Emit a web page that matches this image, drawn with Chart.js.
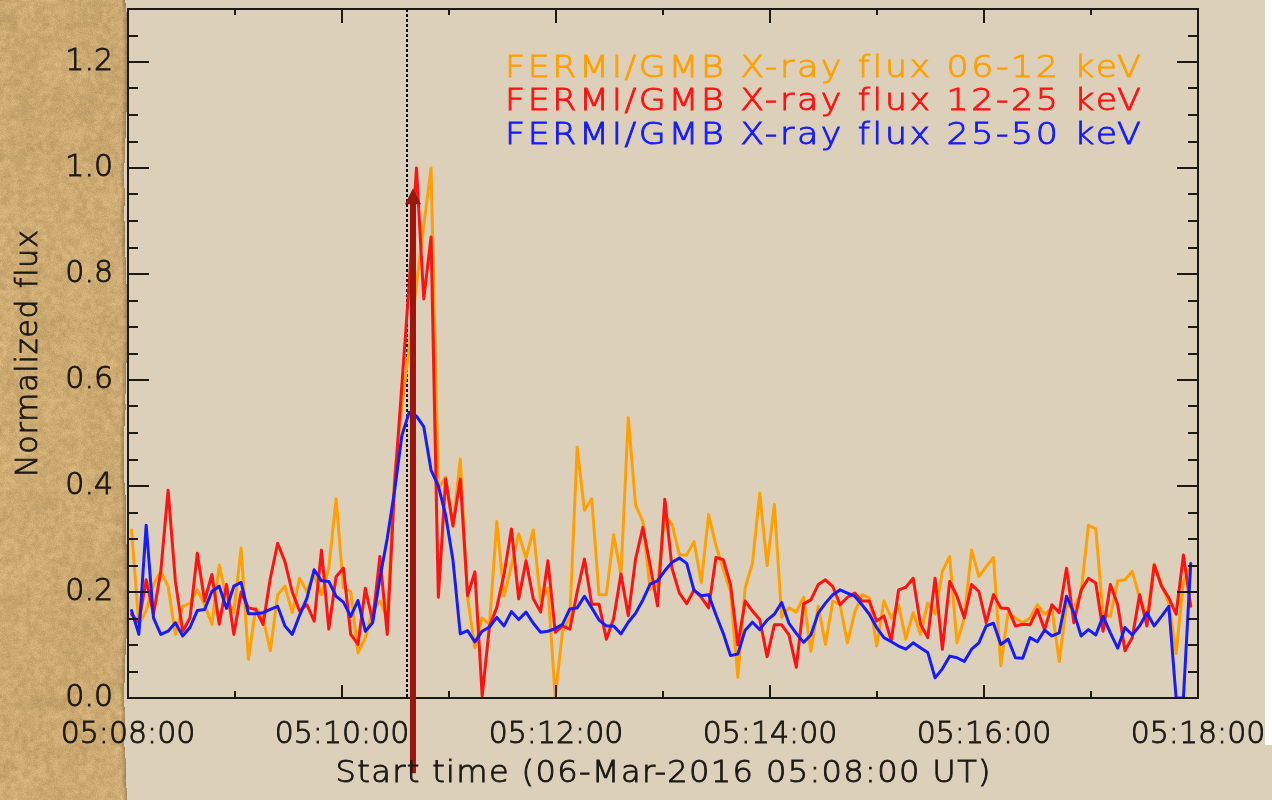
<!DOCTYPE html>
<html>
<head>
<meta charset="utf-8">
<title>FERMI/GBM normalized X-ray flux</title>
<script src="https://cdn.jsdelivr.net/npm/chart.js@4.4.1/dist/chart.umd.min.js"></script>
<style>
  html, body { margin: 0; padding: 0; background: #dcd0bb; }
  #c { display: block; }
</style>
</head>
<body>
<canvas id="c" width="1272" height="800"></canvas>
<script>
// ---- data -----------------------------------------------------------------
// Sample grid: seconds after 05:08:00 UT, 4.096 s accumulation bins
const START_OFFSET_S = 2.0;
const BIN_S = 4.096;

// Normalized count rate, 06-12 keV
const flux06to12 = [
  0.317, 0.139, 0.164, 0.214, 0.239, 0.211, 0.120, 0.173, 0.179, 0.204,
  0.176, 0.139, 0.251, 0.189, 0.161, 0.283, 0.073, 0.170, 0.151, 0.089,
  0.195, 0.211, 0.161, 0.226, 0.201, 0.232, 0.195, 0.245, 0.376, 0.208,
  0.201, 0.085, 0.114, 0.164, 0.183, 0.151, 0.420, 0.550, 0.660, 0.780,
  0.890, 1.000, 0.395, 0.417, 0.323, 0.451, 0.189, 0.095, 0.151, 0.139,
  0.333, 0.192, 0.250, 0.310, 0.264, 0.317, 0.183, 0.208, 0.002, 0.126,
  0.151, 0.473, 0.354, 0.376, 0.195, 0.195, 0.308, 0.233, 0.529, 0.364,
  0.333, 0.204, 0.214, 0.344, 0.328, 0.270, 0.270, 0.295, 0.218, 0.346,
  0.288, 0.244, 0.200, 0.039, 0.208, 0.254, 0.387, 0.250, 0.365, 0.152,
  0.170, 0.162, 0.190, 0.088, 0.173, 0.101, 0.183, 0.176, 0.104, 0.161,
  0.195, 0.189, 0.098, 0.183, 0.151, 0.176, 0.111, 0.161, 0.120, 0.179,
  0.158, 0.239, 0.267, 0.104, 0.151, 0.279, 0.229, 0.248, 0.265, 0.061,
  0.161, 0.151, 0.142, 0.151, 0.176, 0.158, 0.169, 0.069, 0.176, 0.169,
  0.200, 0.326, 0.319, 0.158, 0.154, 0.221, 0.223, 0.239, 0.189, 0.154,
  0.253, 0.214, 0.179, 0.084, 0.220, 0.248
];

// Normalized count rate, 12-25 keV
const flux12to25 = [
  0.158, 0.142, 0.223, 0.158, 0.239, 0.392, 0.220, 0.126, 0.151, 0.273,
  0.183, 0.233, 0.139, 0.214, 0.120, 0.200, 0.170, 0.167, 0.139, 0.226,
  0.292, 0.257, 0.200, 0.164, 0.176, 0.145, 0.279, 0.130, 0.229, 0.245,
  0.120, 0.101, 0.207, 0.145, 0.267, 0.120, 0.400, 0.590, 0.780, 1.000,
  0.753, 0.870, 0.190, 0.413, 0.325, 0.413, 0.193, 0.238, 0.004, 0.136,
  0.171, 0.234, 0.319, 0.187, 0.259, 0.187, 0.162, 0.259, 0.124, 0.136,
  0.130, 0.200, 0.262, 0.177, 0.177, 0.111, 0.150, 0.234, 0.155, 0.262,
  0.322, 0.250, 0.174, 0.375, 0.244, 0.198, 0.178, 0.204, 0.190, 0.170,
  0.265, 0.261, 0.214, 0.100, 0.183, 0.164, 0.148, 0.078, 0.138, 0.138,
  0.119, 0.058, 0.178, 0.185, 0.214, 0.223, 0.210, 0.176, 0.190, 0.198,
  0.183, 0.183, 0.145, 0.155, 0.108, 0.204, 0.209, 0.226, 0.139, 0.114,
  0.226, 0.092, 0.220, 0.192, 0.151, 0.214, 0.201, 0.142, 0.195, 0.170,
  0.169, 0.136, 0.139, 0.138, 0.167, 0.129, 0.176, 0.161, 0.245, 0.142,
  0.204, 0.226, 0.217, 0.126, 0.214, 0.176, 0.089, 0.114, 0.195, 0.136,
  0.251, 0.211, 0.189, 0.158, 0.270, 0.173
];

// Normalized count rate, 25-50 keV
const flux25to50 = [
  0.165, 0.120, 0.326, 0.151, 0.120, 0.126, 0.142, 0.117, 0.133, 0.165,
  0.167, 0.201, 0.211, 0.169, 0.211, 0.218, 0.159, 0.159, 0.161, 0.167,
  0.173, 0.136, 0.120, 0.156, 0.188, 0.242, 0.221, 0.220, 0.192, 0.181,
  0.154, 0.184, 0.126, 0.142, 0.226, 0.301, 0.390, 0.495, 0.539, 0.532,
  0.512, 0.430, 0.400, 0.345, 0.260, 0.121, 0.127, 0.106, 0.126, 0.134,
  0.152, 0.136, 0.163, 0.148, 0.162, 0.141, 0.124, 0.126, 0.131, 0.139,
  0.168, 0.170, 0.192, 0.170, 0.147, 0.136, 0.136, 0.121, 0.143, 0.160,
  0.185, 0.215, 0.221, 0.240, 0.256, 0.264, 0.254, 0.203, 0.193, 0.195,
  0.157, 0.122, 0.080, 0.083, 0.128, 0.143, 0.129, 0.147, 0.158, 0.180,
  0.141, 0.122, 0.105, 0.119, 0.160, 0.179, 0.195, 0.204, 0.198, 0.192,
  0.176, 0.158, 0.133, 0.114, 0.106, 0.098, 0.092, 0.104, 0.095, 0.086,
  0.038, 0.055, 0.079, 0.076, 0.069, 0.092, 0.104, 0.136, 0.141, 0.101,
  0.111, 0.076, 0.075, 0.114, 0.106, 0.128, 0.117, 0.123, 0.192, 0.161,
  0.117, 0.129, 0.119, 0.154, 0.123, 0.094, 0.133, 0.119, 0.136, 0.161,
  0.136, 0.154, 0.173, 0.000, 0.000, 0.254
];

const seriesLabels = [
  'FERMI/GMB X-ray flux 06-12 keV',
  'FERMI/GMB X-ray flux 12-25 keV',
  'FERMI/GMB X-ray flux 25-50 keV'
];

// Time-axis labels, one every 120 s from 05:08:00
const timeTickLabels = ['05:08:00', '05:10:00', '05:12:00', '05:14:00', '05:16:00', '05:18:00'];

const xTitle = 'Start time (06-Mar-2016 05:08:00 UT)';
const yTitle = 'Normalized flux';

// Markers: dotted onset line and the upward arrow (seconds after start / flux)
const onsetTimeS = 156.5;
const arrowTimeS = 159.8;
const arrowFromFlux = -0.142;
const arrowToFlux = 0.962;

// ---- styling --------------------------------------------------------------
const INK = '#1d1a16';
const FONT = '"DejaVu Sans", "Liberation Sans", sans-serif';
const COLORS = ['rgb(255,160,0)', 'rgb(255,18,18)', 'rgb(22,28,250)'];

const toPoints = arr => arr.map((v, i) => ({ x: START_OFFSET_S + i * BIN_S, y: v }));

// deterministic hash for the paper grain
function grain(x, y) {
  let n = Math.imul(x, 374761393) + Math.imul(y, 668265263);
  n = Math.imul(n ^ (n >>> 13), 1274126177);
  return ((n ^ (n >>> 16)) >>> 0) / 4294967295;
}
function smoothGrain(x, y, cell) {
  const gx = x / cell, gy = y / cell;
  const x0 = Math.floor(gx), y0 = Math.floor(gy);
  const fx = gx - x0, fy = gy - y0;
  const a = grain(x0, y0), b = grain(x0 + 1, y0), c = grain(x0, y0 + 1), d = grain(x0 + 1, y0 + 1);
  return (a * (1 - fx) + b * fx) * (1 - fy) + (c * (1 - fx) + d * fx) * fy;
}

// text helper: horizontally widened glyphs with extra tracking to a target width
function drawWideText(ctx, text, x, y, targetW, stretch, align) {
  ctx.save();
  ctx.letterSpacing = '0px';
  const w0 = ctx.measureText(text).width;
  const ls = (targetW / stretch - w0) / Math.max(1, text.length - 1);
  ctx.letterSpacing = ls.toFixed(2) + 'px';
  let x0 = x;
  if (align === 'center') x0 = x - targetW / 2;
  ctx.translate(x0, y);
  ctx.scale(stretch, 1);
  ctx.textAlign = 'left';
  ctx.fillText(text, 0, 0);
  ctx.strokeStyle = ctx.fillStyle;
  ctx.lineWidth = 0.9;
  ctx.strokeText(text, 0, 0);
  ctx.restore();
}

const paperBackground = {
  id: 'paperBackground',
  beforeDraw(chart) {
    const { ctx, width, height } = chart;
    ctx.save();
    ctx.fillStyle = '#dcd0bb';
    ctx.fillRect(0, 0, width, height);
    // torn parchment strip on the left edge
    const stripW = 128;
    const img = ctx.createImageData(stripW, height);
    for (let y = 0; y < height; y++) {
      const edge = 124 + Math.round(1.5 * Math.sin(y / 41) + 1.5 * smoothGrain(3, y, 12));
      for (let x = 0; x < stripW; x++) {
        const k = (y * stripW + x) * 4;
        if (x > edge) { img.data[k + 3] = 0; continue; }
        const g = 0.45 * smoothGrain(x, y, 4) + 0.35 * grain(x, y) + 0.2 * smoothGrain(x + 500, y, 25) - 0.5;
        let r = 204 + g * 50, gg = 170 + g * 48, b = 114 + g * 42;
        const d = edge - x;
        if (d < 4) { const s = 0.8 + d * 0.05; r *= s; gg *= s; b *= s; }
        img.data[k] = r; img.data[k + 1] = gg; img.data[k + 2] = b; img.data[k + 3] = 255;
      }
    }
    ctx.putImageData(img, 0, 0);
    // white margin on the far right
    ctx.fillStyle = '#ffffff';
    ctx.fillRect(1265, 0, 7, 745);
    ctx.restore();
  }
};

const onsetLine = {
  id: 'onsetLine',
  beforeDatasetsDraw(chart) {
    const { ctx, chartArea: a, scales: { x } } = chart;
    const px = Math.round(x.getPixelForValue(onsetTimeS));
    ctx.save();
    ctx.strokeStyle = '#0c0a08';
    ctx.lineWidth = 2;
    ctx.setLineDash([3, 2]);
    ctx.beginPath();
    ctx.moveTo(px, a.top);
    ctx.lineTo(px, a.bottom);
    ctx.stroke();
    ctx.restore();
  }
};

const frameAndTicks = {
  id: 'frameAndTicks',
  afterDatasetsDraw(chart) {
    const { ctx, chartArea: a, scales: { x, y } } = chart;
    ctx.save();
    ctx.strokeStyle = INK;
    ctx.lineWidth = 2;
    ctx.strokeRect(a.left, a.top, a.right - a.left, a.bottom - a.top);
    ctx.beginPath();
    // value axis: minor every 0.05, major every 0.2, on both sides
    for (let k = 1; k < 26; k++) {
      const py = Math.round(y.getPixelForValue(k * 0.05));
      const len = k % 4 === 0 ? 21 : 10;
      ctx.moveTo(a.left, py); ctx.lineTo(a.left + len, py);
      ctx.moveTo(a.right, py); ctx.lineTo(a.right - len, py);
    }
    // time axis: minor every minute, major every two, bottom and top
    for (let s = 60; s < 600; s += 60) {
      const px = Math.round(x.getPixelForValue(s));
      const major = s % 120 === 0;
      ctx.moveTo(px, a.bottom); ctx.lineTo(px, a.bottom - (major ? 13 : 7));
      ctx.moveTo(px, a.top); ctx.lineTo(px, a.top + (major ? 14 : 6));
    }
    ctx.stroke();

    // upward arrow
    const ax = x.getPixelForValue(arrowTimeS);
    const yTip = y.getPixelForValue(arrowToFlux);
    const yBase = y.getPixelForValue(arrowFromFlux);
    const headH = 16, headW = 8;
    ctx.strokeStyle = 'rgb(155,22,14)';
    ctx.fillStyle = 'rgb(155,22,14)';
    ctx.lineWidth = 6;
    ctx.beginPath();
    ctx.moveTo(ax, yBase);
    ctx.lineTo(ax, yTip + headH - 2);
    ctx.stroke();
    ctx.beginPath();
    ctx.moveTo(ax, yTip);
    ctx.lineTo(ax - headW, yTip + headH);
    ctx.lineTo(ax + headW, yTip + headH);
    ctx.closePath();
    ctx.fill();

    // series key in the upper right
    ctx.font = '200 30px ' + FONT;
    ctx.textBaseline = 'middle';
    chart.data.datasets.forEach((ds, i) => {
      ctx.fillStyle = ds.borderColor;
      drawWideText(ctx, ds.label, a.left + 377, a.top + 60 + i * 33.5, 636, 1.16, 'left');
    });

    // axis titles
    ctx.fillStyle = INK;
    ctx.font = '200 30px ' + FONT;
    drawWideText(ctx, xTitle, (a.left + a.right) / 2, 774, 655, 1.07, 'center');
    ctx.save();
    ctx.translate(29, (a.top + a.bottom) / 2);
    ctx.rotate(-Math.PI / 2);
    drawWideText(ctx, yTitle, 0, 0, 247, 1.0, 'center');
    ctx.restore();
    ctx.restore();
  }
};

const zeroPad = s => { s.paddingLeft = 0; s.paddingRight = 0; s.paddingTop = 0; s.paddingBottom = 0; };

const tickFont = { family: FONT, size: 30, weight: '200' };

new Chart(document.getElementById('c'), {
  type: 'line',
  data: {
    datasets: [
      { label: seriesLabels[0], data: toPoints(flux06to12), borderColor: COLORS[0], order: 2 },
      { label: seriesLabels[1], data: toPoints(flux12to25), borderColor: COLORS[1], order: 1 },
      { label: seriesLabels[2], data: toPoints(flux25to50), borderColor: COLORS[2], order: 0 }
    ]
  },
  options: {
    responsive: false,
    devicePixelRatio: 1,
    animation: false,
    layout: { padding: { left: 0, right: 74, top: 9, bottom: 0 } },
    elements: {
      point: { radius: 0 },
      line: { borderWidth: 3, tension: 0, borderJoinStyle: 'round', borderCapStyle: 'round' }
    },
    plugins: { legend: { display: false }, tooltip: { enabled: false } },
    scales: {
      x: {
        type: 'linear',
        min: 0,
        max: 600,
        afterFit: s => { s.height = 102; zeroPad(s); },
        grid: { display: false, drawTicks: false },
        border: { display: false },
        ticks: {
          stepSize: 120,
          autoSkip: false,
          maxRotation: 0,
          padding: 19,
          color: INK,
          textStrokeColor: INK,
          textStrokeWidth: 0.9,
          font: tickFont,
          callback: v => timeTickLabels[Math.round(v / 120)]
        },
        title: { display: false, text: xTitle }
      },
      y: {
        min: 0,
        max: 1.3,
        afterFit: s => { s.width = 128; zeroPad(s); },
        grid: { display: false, drawTicks: false },
        border: { display: false },
        ticks: {
          stepSize: 0.2,
          includeBounds: false,
          padding: 15,
          color: INK,
          textStrokeColor: INK,
          textStrokeWidth: 0.9,
          font: tickFont,
          callback: v => v.toFixed(1)
        },
        title: { display: false, text: yTitle }
      }
    }
  },
  plugins: [paperBackground, onsetLine, frameAndTicks]
});
</script>
</body>
</html>
